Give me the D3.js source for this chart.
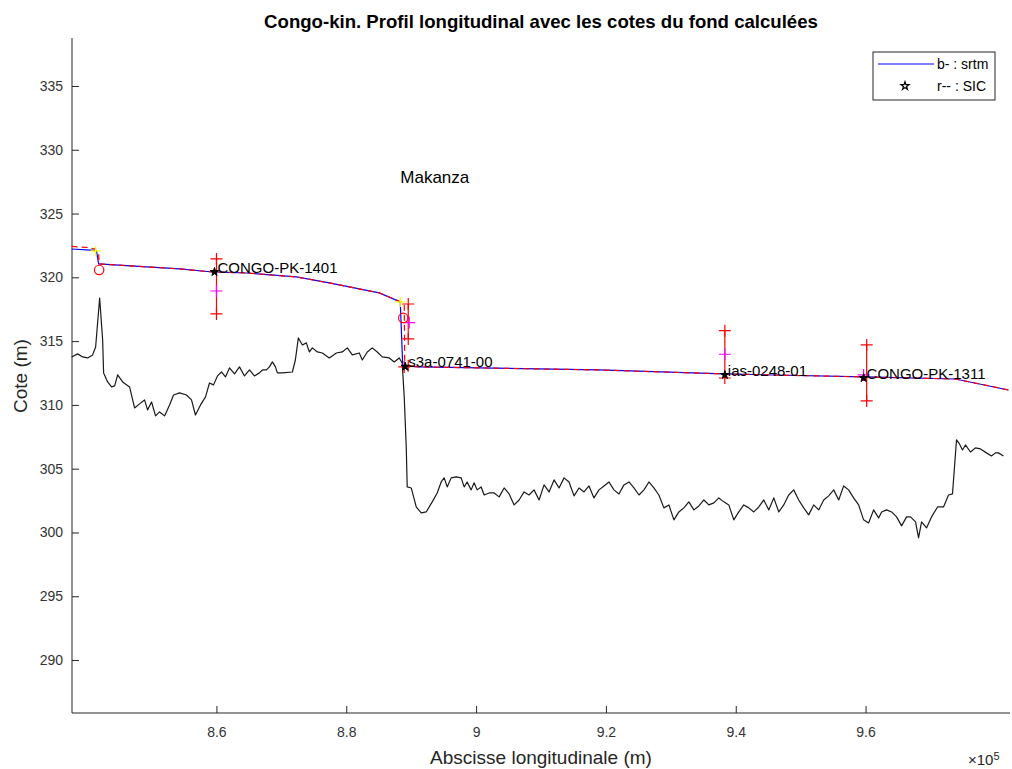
<!DOCTYPE html>
<html><head><meta charset="utf-8">
<script src="https://cdnjs.cloudflare.com/ajax/libs/d3/7.8.5/d3.min.js"></script>
<style>
body{margin:0;background:#fff;}
svg{display:block;font-family:"Liberation Sans",Arial,sans-serif;}
</style></head>
<body><svg id="c" width="1012" height="769"></svg>
<script>
// ---- data ----
const bedX = [837700,838620,839390,840160,840930,841390,842010,842470,842620,843240,843850,844320,844780,845550,846620,847390,848160,848930,849390,850010,850620,851240,852010,852780,853390,854320,855390,856160,856770,857550,858320,858930,859550,860160,860780,861390,862010,862780,863550,864320,865090,865850,866620,867090,867700,868160,868620,869090,869390,870160,871700,872160,872620,873240,873850,874320,874780,875550,876320,877390,878470,879390,880160,880930,882010,882470,883240,884010,884780,885550,886620,887390,888160,888620,888930,889240,889390,890010,890780,891550,892320,893240,894010,894620,895090,895550,896160,896930,897700,898160,898620,899240,899700,900160,900780,901240,902010,902780,903550,904320,905090,905860,906630,907390,908160,908930,909700,910470,911240,912010,912780,913550,914320,915090,915860,916630,917390,918160,918930,919700,920470,921240,922010,922780,923550,924320,925090,925860,926630,927390,928160,928930,929700,930470,931240,932010,932780,933550,934320,935090,935860,936630,937390,938160,938930,939700,940470,941240,942010,942780,943550,944320,945090,945860,946630,947390,948160,948930,949700,950470,951240,952010,952780,953550,954320,955090,955860,956630,957390,958160,958930,959700,960470,961240,962010,962470,963240,964010,964780,965550,966320,966930,967700,968160,968630,969390,970160,971090,972010,972780,973390,974010,974470,974930,975390,976160,976930,977700,978630,979390,980010,980470,981240,981860];
const bedY = [313.76,314.00,313.76,313.68,313.92,314.54,318.38,315.09,312.51,311.80,311.41,311.49,312.35,311.80,311.41,309.76,310.08,310.39,309.61,310.23,309.14,309.45,309.14,310.00,310.78,310.94,310.78,310.39,309.21,310.00,310.63,311.72,311.57,312.27,312.58,312.19,312.90,312.43,312.98,312.27,312.74,312.27,312.51,312.74,312.74,312.98,313.37,312.98,312.51,312.51,312.58,313.52,315.25,314.70,314.86,314.15,314.47,314.15,314.07,313.68,314.07,314.15,314.47,313.92,314.07,313.52,314.15,314.47,314.15,313.76,313.68,313.37,313.68,313.29,310.63,306.71,303.57,303.49,302.00,301.53,301.61,302.40,303.10,303.96,304.28,303.57,304.28,304.36,304.28,303.57,303.96,303.34,303.89,303.34,303.57,302.94,303.10,303.10,302.79,303.49,303.02,302.16,302.55,303.18,302.94,303.34,302.55,303.73,303.18,304.12,303.49,304.28,303.96,302.87,303.49,303.18,303.65,302.71,303.34,303.65,303.96,303.34,303.02,303.73,303.96,303.49,302.94,303.34,303.96,303.49,302.94,301.93,302.16,300.99,301.61,301.93,302.40,301.77,302.08,302.55,302.16,302.32,302.71,302.40,302.16,300.99,301.61,302.16,301.93,301.61,302.00,302.55,301.77,302.71,301.61,302.16,302.94,303.34,302.55,301.93,301.38,302.16,301.77,302.55,302.87,303.34,302.55,303.65,303.34,302.71,302.16,300.99,300.75,301.77,301.14,301.61,301.77,301.61,301.22,300.52,301.22,301.22,300.83,299.58,300.83,300.36,301.22,302.00,302.00,302.94,303.02,307.26,306.94,306.47,306.86,306.31,306.63,306.55,306.24,306.00,306.24,306.24,306.00];
const srtmX = [837700,841240,841550,841850,854320,859390,864620,872320,877390,885090,888320,888700,891240,918930,938160,960010,973860,982010];
const srtmY = [322.22,322.11,321.99,321.05,320.66,320.42,320.34,320.03,319.56,318.78,318.07,313.06,312.98,312.74,312.43,312.19,312.03,311.17];
const sicX = [837700,840160,841240,841850,841930,854320,859390,864620,872320,877390,885090,888320,888930,889010,891240,918930,938160,960010,973860,982010];
const sicY = [322.42,322.34,322.22,321.91,321.05,320.66,320.42,320.34,320.03,319.56,318.78,318.11,317.91,313.06,312.98,312.74,312.43,312.19,312.03,311.17];
const stationX = [859700,889090,938320,959700];
const stationY = [320.42,313.00,312.35,312.11];
const stationLabels = ["CONGO-PK-1401","s3a-0741-00","ias-0248-01","CONGO-PK-1311"];
const errX = [860010,889550,938320,960170];
const errLo = [317.13,315.17,312.11,310.31];
const errHi = [321.44,317.91,315.82,314.70];
const magX = [860010,889700,938320,959700];
const magY = [318.93,316.45,313.97,312.35];
const extraPlusX = [888930,889550];
const extraPlusY = [312.98,313.06];
const yellowX = [841390,888320];
const yellowY = [322.07,318.07];
const circleX = [841930,888780];
const circleY = [320.58,316.82];
const xTicks = [860000,880000,900000,920000,940000,960000];
const yTicks = [290,295,300,305,310,315,320,325,330,335];
const placeName = "Makanza", placeX = 888320, placeY = 327.87;
const titleText = "Congo-kin. Profil longitudinal avec les cotes du fond calculées";
const xLabel = "Abscisse longitudinale (m)", yLabel = "Cote (m)";
const legendLabels = ["b- : srtm","r-- : SIC"];

// ---- layout ----
const L = 72, R = 1010, T = 38, B = 713;
const svg = d3.select("#c");
const x = d3.scaleLinear().domain([837750, 982250]).range([L, R]);
const y = d3.scaleLinear().domain([285.85, 338.76]).range([B, T]);
const axisCol = "#262626";

svg.append("rect").attr("width",1012).attr("height",769).attr("fill","#fff");

// axes
const gx = svg.append("g").attr("transform",`translate(0,${B})`)
  .call(d3.axisBottom(x).tickValues(xTicks).tickSize(-7).tickPadding(14)
    .tickFormat(d => d3.format("")(+(d/1e5).toFixed(1))));
const gy = svg.append("g").attr("transform",`translate(${L},0)`)
  .call(d3.axisLeft(y).tickValues(yTicks).tickSize(-7).tickPadding(9));
[gx, gy].forEach(g => {
  g.select(".domain").attr("stroke", axisCol).attr("stroke-width",1);
  g.selectAll(".tick line").attr("stroke", axisCol);
  g.selectAll(".tick text").attr("fill", "#333").attr("font-size",14)
    .attr("font-family",'"Liberation Sans",Arial,sans-serif');
});
gx.select(".domain").attr("d", `M${L},0H${R}`);
gy.select(".domain").attr("d", `M0,${T}V${B}`);

const line = d3.line().x(d => x(d[0])).y(d => y(d[1]));
const plot = svg.append("g");

// bed profile
plot.append("path").datum(d3.zip(bedX, bedY)).attr("d", line)
  .attr("fill","none").attr("stroke","#1a1a1a").attr("stroke-width",1.2).attr("stroke-linejoin","round");
// srtm
plot.append("path").datum(d3.zip(srtmX, srtmY)).attr("d", line)
  .attr("fill","none").attr("stroke","#0000ff").attr("stroke-width",1.2);
// SIC
plot.append("path").datum(d3.zip(sicX, sicY)).attr("d", line)
  .attr("fill","none").attr("stroke","#ff0000").attr("stroke-width",1.2).attr("stroke-dasharray","6,4");

function plus(g, px, py, col, s) {
  g.append("path").attr("d", `M${px-s},${py}H${px+s}M${px},${py-s}V${py+s}`)
    .attr("stroke", col).attr("stroke-width",1.2).attr("fill","none");
}
// error bars
errX.forEach((ex,i) => {
  plot.append("line").attr("x1",x(ex)).attr("x2",x(ex)).attr("y1",y(errLo[i])).attr("y2",y(errHi[i]))
    .attr("stroke","#ff0000").attr("stroke-width",1.2);
  plus(plot, x(ex), y(errLo[i]), "#ff0000", 6);
  plus(plot, x(ex), y(errHi[i]), "#ff0000", 6);
});
magX.forEach((mx,i) => plus(plot, x(mx), y(magY[i]), "#ff00ff", 6));
extraPlusX.forEach((px,i) => plus(plot, x(px), y(extraPlusY[i]), "#ff0000", 6));
yellowX.forEach((px,i) => plus(plot, x(px), y(yellowY[i]), "#ffff00", 5));
circleX.forEach((cx,i) => plot.append("circle").attr("cx",x(cx)).attr("cy",y(circleY[i])).attr("r",4.7)
  .attr("fill","none").attr("stroke","#ff0000").attr("stroke-width",1.2));

const star = d3.symbol().type(d3.symbolStar).size(22);
stationX.forEach((sx,i) => {
  plot.append("path").attr("d", star()).attr("transform",`translate(${x(sx)},${y(stationY[i])})`)
    .attr("fill","#000").attr("stroke","#000").attr("stroke-width",1);
  plot.append("text").attr("x", x(sx)+3).attr("y", y(stationY[i])-4.5).attr("dy","0.35em")
    .attr("font-size",15).attr("fill","#000").text(stationLabels[i]);
});
plot.append("text").attr("x", x(placeX)).attr("y", y(placeY)).attr("dy","0.35em")
  .attr("font-size",17).attr("fill","#000").text(placeName);

// title and labels
svg.append("text").attr("x",(L+R)/2).attr("y",21).attr("dy","0.35em").attr("text-anchor","middle")
  .attr("font-size",18.6).attr("font-weight","bold").attr("fill","#000").text(titleText);
svg.append("text").attr("x",(L+R)/2).attr("y",757).attr("dy","0.35em").attr("text-anchor","middle")
  .attr("font-size",19).attr("fill",axisCol).text(xLabel);
svg.append("text").attr("transform","translate(20,376) rotate(-90)").attr("dy","0.35em").attr("text-anchor","middle")
  .attr("font-size",19).attr("fill",axisCol).text(yLabel);
const ex = svg.append("text").attr("x",968).attr("y",760).attr("dy","0.35em").attr("font-size",15).attr("fill",axisCol);
ex.append("tspan").text("\u00d710");
ex.append("tspan").attr("dy","-0.5em").attr("font-size",11).text("5");

// legend
const lg = svg.append("g");
lg.append("rect").attr("x",873).attr("y",52).attr("width",122).attr("height",48)
  .attr("fill","#fff").attr("stroke",axisCol).attr("stroke-width",1);
lg.append("line").attr("x1",878).attr("x2",934).attr("y1",64).attr("y2",64).attr("stroke","#0000ff").attr("stroke-width",1.2);
lg.append("path").attr("d", d3.symbol().type(d3.symbolStar).size(20)()).attr("transform","translate(905,86)")
  .attr("fill","none").attr("stroke","#000").attr("stroke-width",1.2);
lg.append("text").attr("x",937).attr("y",64).attr("dy","0.35em").attr("font-size",14).attr("fill","#000").text(legendLabels[0]);
lg.append("text").attr("x",937).attr("y",86).attr("dy","0.35em").attr("font-size",14).attr("fill","#000").text(legendLabels[1]);
</script></body></html>
